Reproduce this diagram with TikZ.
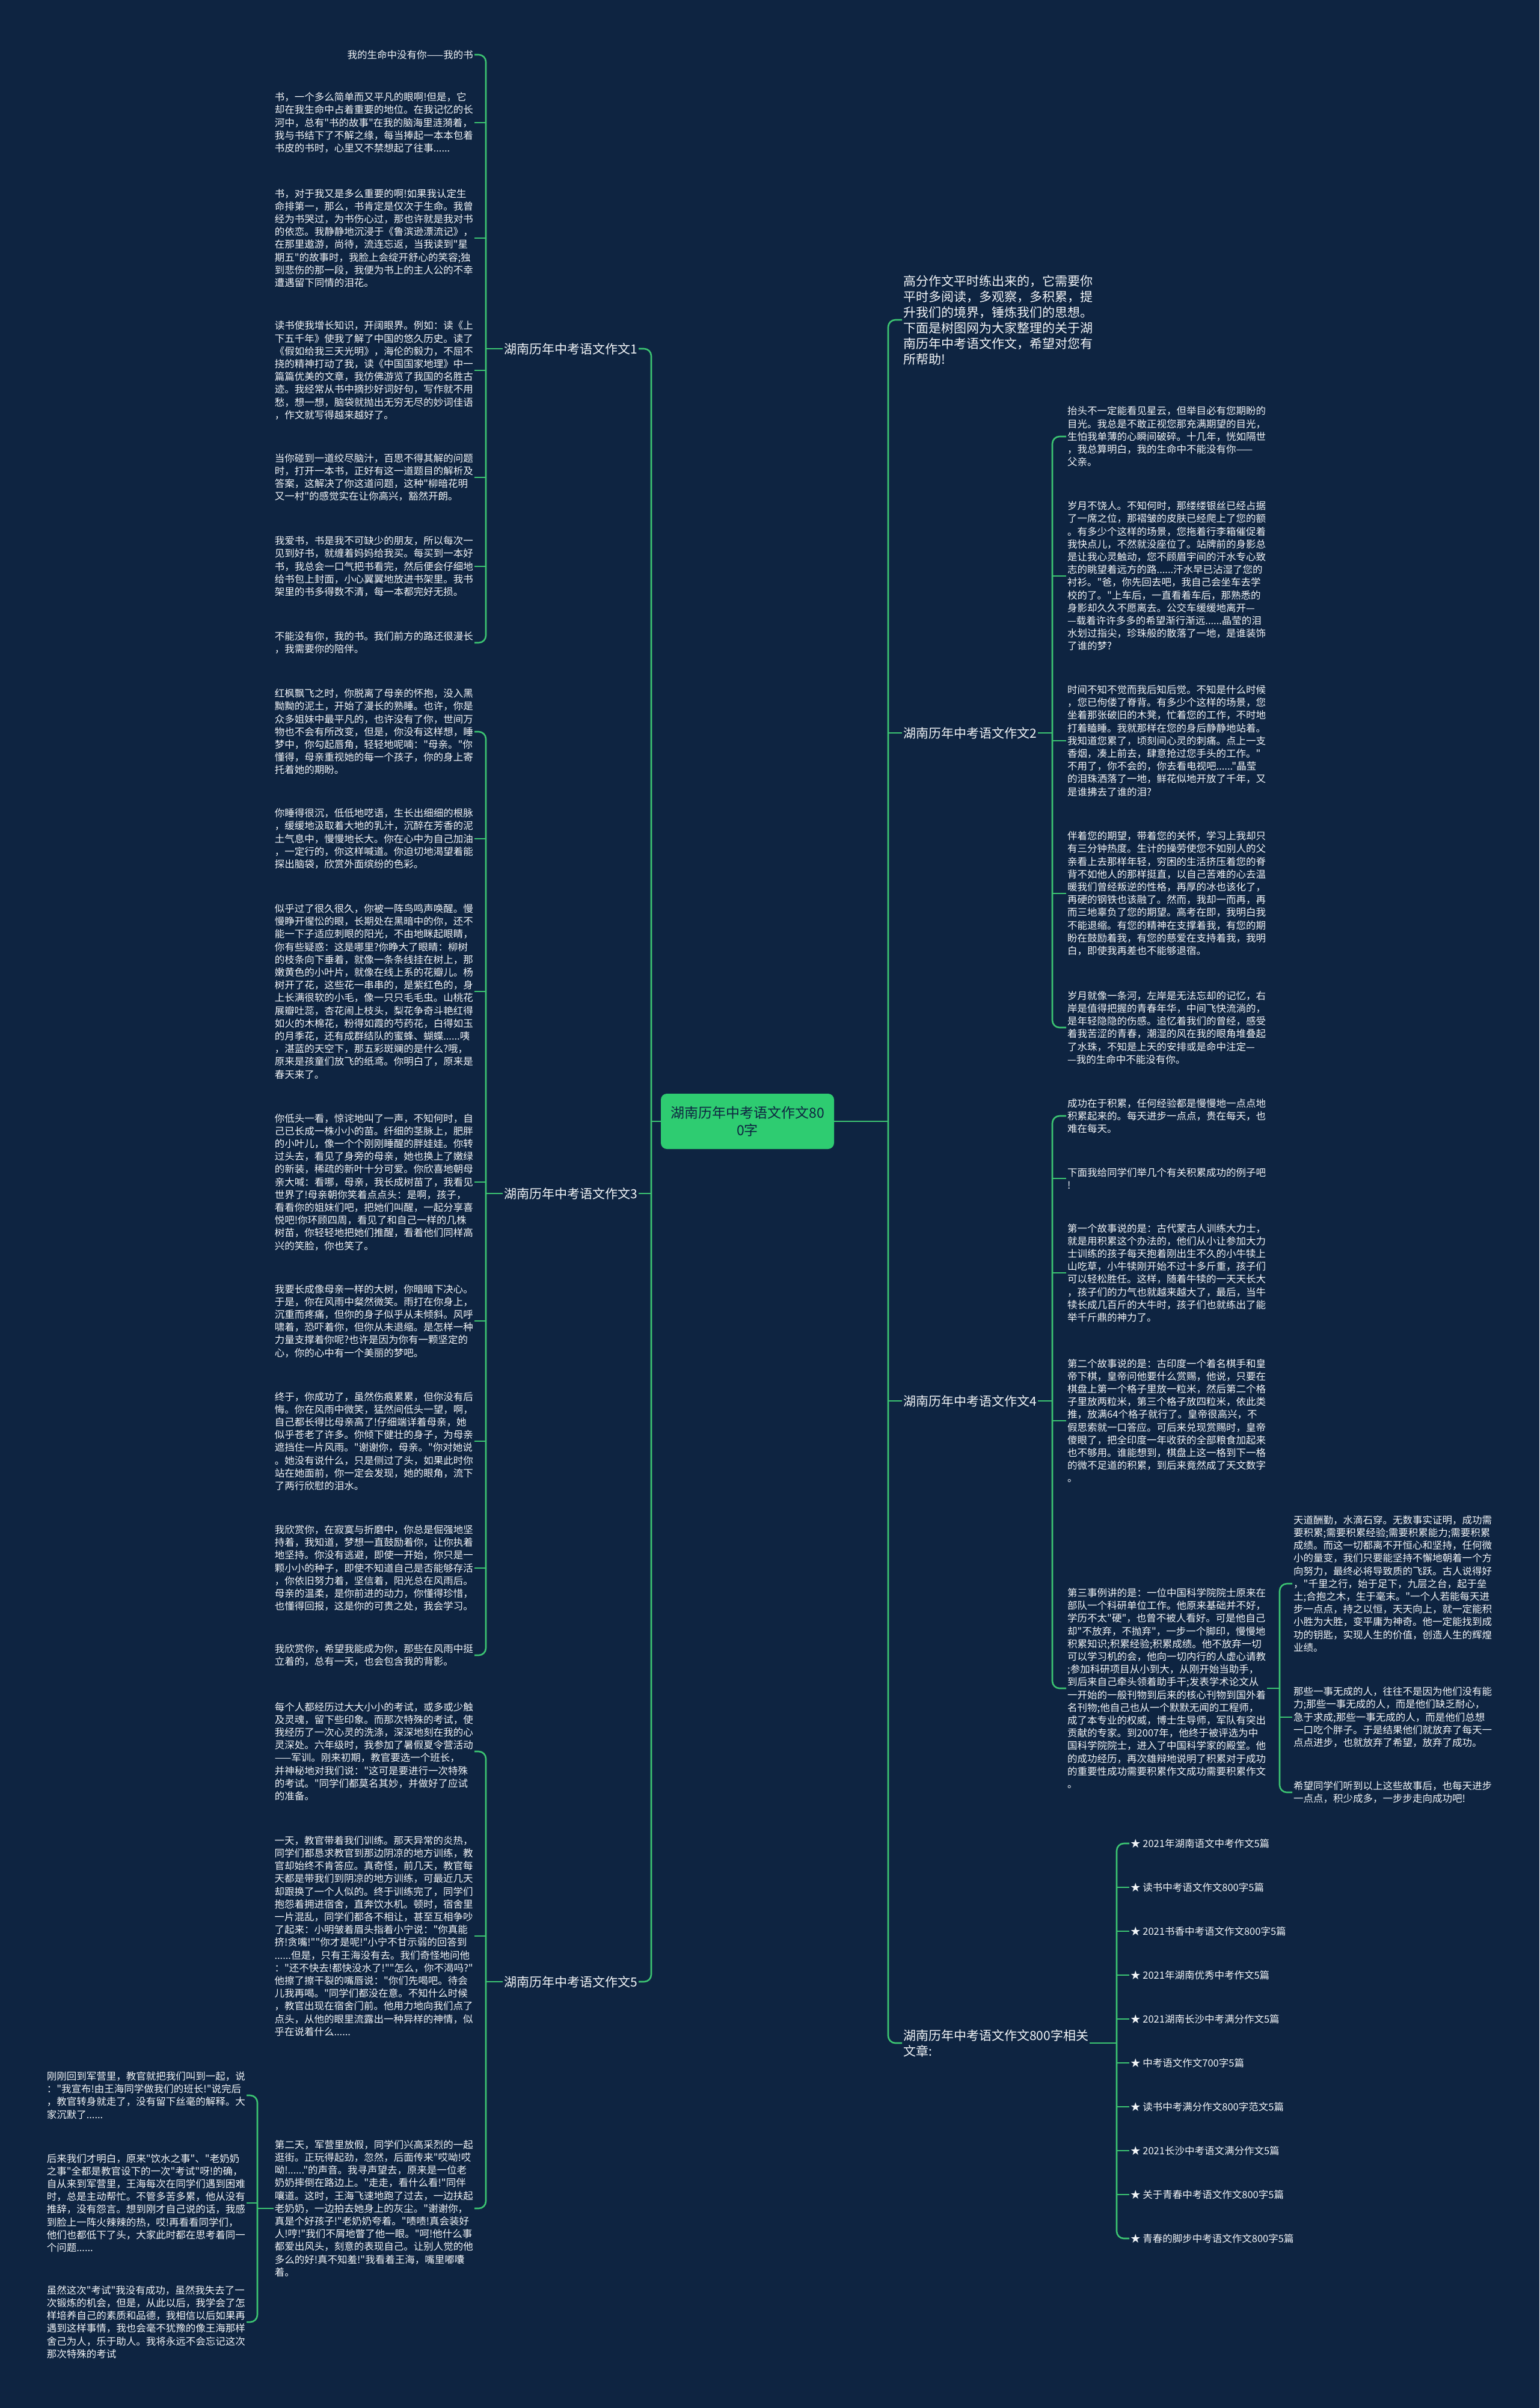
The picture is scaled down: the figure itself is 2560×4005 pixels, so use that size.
\documentclass[tikz,border=0pt]{standalone}
\usepackage{fontspec}
\setmainfont[Ligatures=TeXOff]{Noto Sans CJK SC}
\usepackage{tikz}
\definecolor{bgblue}{HTML}{0E2441}
\definecolor{mapgreen}{HTML}{3CC472}
\definecolor{rootgreen}{HTML}{2ECC71}
\definecolor{txtwhite}{HTML}{F2F5F8}

\begin{document}
\begin{tikzpicture}[x=1pt,y=-1pt,
  link/.style={draw=mapgreen,line width=2.6pt},
  brace/.style={link,rounded corners=12pt},
  leafl/.style={anchor=east,align=left,inner sep=2pt,text=txtwhite,font=\fontsize{16.5}{21.2}\selectfont},
  leafr/.style={leafl,anchor=west},
  labl/.style={anchor=east,align=left,inner sep=2pt,text=txtwhite,font=\fontsize{21}{26}\selectfont},
  labr/.style={labl,anchor=west},
  rootbox/.style={fill=rootgreen,rounded corners=10pt,minimum width=288pt,minimum height=92pt,align=center,text=bgblue,font=\fontsize{23}{29}\selectfont}]

\useasboundingbox (0,0) rectangle (2560,4005);
\fill[bgblue] (0,0) rectangle (2560,4005);

% centre
\node[rootbox] (root) at (1243,1865) {湖南历年中考语文作文80\\0字};
\coordinate (ml) at (1083,1865);
\coordinate (mr) at (1477,1865);

% left side
\node[labl] (lab1) at (1062,580) {湖南历年中考语文作文1};
\node[labl] (lab3) at (1062,1985) {湖南历年中考语文作文3};
\node[labl] (lab5) at (1062,3296) {湖南历年中考语文作文5};

% right side
\node[labr] (intro) at (1500,532) {高分作文平时练出来的，它需要你\\平时多阅读，多观察，多积累，提\\升我们的境界，锤炼我们的思想。\\下面是树图网为大家整理的关于湖\\南历年中考语文作文，希望对您有\\所帮助!};
\node[labr] (lab2) at (1500,1219) {湖南历年中考语文作文2};
\node[labr] (lab4) at (1500,2330) {湖南历年中考语文作文4};
\node[labr] (rel) at (1500,3398) {湖南历年中考语文作文800字相关\\文章:};

% branch 1
\node[leafl] (a1) at (789,91) {我的生命中没有你——我的书};
\node[leafl] (a2) at (789,204) {书，一个多么简单而又平凡的眼啊!但是，它\\却在我生命中占着重要的地位。在我记忆的长\\河中，总有"书的故事"在我的脑海里涟漪着，\\我与书结下了不解之缘，每当捧起一本本包着\\书皮的书时，心里又不禁想起了往事......};
\node[leafl] (a3) at (789,396) {书，对于我又是多么重要的啊!如果我认定生\\命排第一，那么，书肯定是仅次于生命。我曾\\经为书哭过，为书伤心过，那也许就是我对书\\的依恋。我静静地沉浸于《鲁滨逊漂流记》，\\在那里遨游，尚待，流连忘返，当我读到"星\\期五"的故事时，我脸上会绽开舒心的笑容;独\\到悲伤的那一段，我便为书上的主人公的不幸\\遭遇留下同情的泪花。};
\node[leafl] (a4) at (789,616) {读书使我增长知识，开阔眼界。例如：读《上\\下五千年》使我了解了中国的悠久历史。读了\\《假如给我三天光明》，海伦的毅力，不屈不\\挠的精神打动了我，读《中国国家地理》中一\\篇篇优美的文章，我仿佛游览了我国的名胜古\\迹。我经常从书中摘抄好词好句，写作就不用\\愁，想一想，脑袋就抛出无穷无尽的妙词佳语\\，作文就写得越来越好了。};
\node[leafl] (a5) at (789,794) {当你碰到一道绞尽脑汁，百思不得其解的问题\\时，打开一本书，正好有这一道题目的解析及\\答案，这解决了你这道问题，这种"柳暗花明\\又一村"的感觉实在让你高兴，豁然开朗。};
\node[leafl] (a6) at (789,942) {我爱书，书是我不可缺少的朋友，所以每次一\\见到好书，就缠着妈妈给我买。每买到一本好\\书，我总会一口气把书看完，然后便会仔细地\\给书包上封面，小心翼翼地放进书架里。我书\\架里的书多得数不清，每一本都完好无损。};
\node[leafl] (a7) at (789,1069) {不能没有你，我的书。我们前方的路还很漫长\\，我需要你的陪伴。};

% branch 3
\node[leafl] (b1) at (789,1217) {红枫飘飞之时，你脱离了母亲的怀抱，没入黑\\黝黝的泥土，开始了漫长的熟睡。也许，你是\\众多姐妹中最平凡的，也许没有了你，世间万\\物也不会有所改变，但是，你没有这样想，睡\\梦中，你勾起唇角，轻轻地呢喃："母亲。"你\\懂得，母亲重视她的每一个孩子，你的身上寄\\托着她的期盼。};
\node[leafl] (b2) at (789,1395) {你睡得很沉，低低地呓语，生长出细细的根脉\\，缓缓地汲取着大地的乳汁，沉醉在芳香的泥\\土气息中，慢慢地长大。你在心中为自己加油\\，一定行的，你这样喊道。你迫切地渴望着能\\探出脑袋，欣赏外面缤纷的色彩。};
\node[leafl] (b3) at (789,1649) {似乎过了很久很久，你被一阵鸟鸣声唤醒。慢\\慢睁开惺忪的眼，长期处在黑暗中的你，还不\\能一下子适应刺眼的阳光，不由地眯起眼睛，\\你有些疑惑：这是哪里?你睁大了眼睛：柳树\\的枝条向下垂着，就像一条条线挂在树上，那\\嫩黄色的小叶片，就像在线上系的花瓣儿。杨\\树开了花，这些花一串串的，是紫红色的，身\\上长满很软的小毛，像一只只毛毛虫。山桃花\\展瓣吐蕊，杏花闹上枝头，梨花争奇斗艳红得\\如火的木棉花，粉得如霞的芍药花，白得如玉\\的月季花，还有成群结队的蜜蜂、蝴蝶......咦\\，湛蓝的天空下，那五彩斑斓的是什么?哦，\\原来是孩童们放飞的纸鸢。你明白了，原来是\\春天来了。};
\node[leafl] (b4) at (789,1966) {你低头一看，惊诧地叫了一声，不知何时，自\\己已长成一株小小的苗。纤细的茎脉上，肥胖\\的小叶儿，像一个个刚刚睡醒的胖娃娃。你转\\过头去，看见了身旁的母亲，她也换上了嫩绿\\的新装，稀疏的新叶十分可爱。你欣喜地朝母\\亲大喊：看哪，母亲，我长成树苗了，我看见\\世界了!母亲朝你笑着点点头：是啊，孩子，\\看看你的姐妹们吧，把她们叫醒，一起分享喜\\悦吧!你环顾四周，看见了和自己一样的几株\\树苗，你轻轻地把她们推醒，看着他们同样高\\兴的笑脸，你也笑了。};
\node[leafl] (b5) at (789,2197) {我要长成像母亲一样的大树，你暗暗下决心。\\于是，你在风雨中粲然微笑。雨打在你身上，\\沉重而疼痛，但你的身子似乎从未倾斜。风呼\\啸着，恐吓着你，但你从未退缩。是怎样一种\\力量支撑着你呢?也许是因为你有一颗坚定的\\心，你的心中有一个美丽的梦吧。};
\node[leafl] (b6) at (789,2397) {终于，你成功了，虽然伤痕累累，但你没有后\\悔。你在风雨中微笑，猛然间低头一望，啊，\\自己都长得比母亲高了!仔细端详着母亲，她\\似乎苍老了许多。你倾下健壮的身子，为母亲\\遮挡住一片风雨。"谢谢你，母亲。"你对她说\\。她没有说什么，只是侧过了头，如果此时你\\站在她面前，你一定会发现，她的眼角，流下\\了两行欣慰的泪水。};
\node[leafl] (b7) at (789,2608) {我欣赏你，在寂寞与折磨中，你总是倔强地坚\\持着，我知道，梦想一直鼓励着你，让你执着\\地坚持。你没有逃避，即使一开始，你只是一\\颗小小的种子，即使不知道自己是否能够存活\\，你依旧努力着，坚信着，阳光总在风雨后。\\母亲的温柔，是你前进的动力，你懂得珍惜，\\也懂得回报，这是你的可贵之处，我会学习。};
\node[leafl] (b8) at (789,2753) {我欣赏你，希望我能成为你，那些在风雨中挺\\立着的，总有一天，也会包含我的背影。};

% branch 5
\node[leafl] (c1) at (789,2913) {每个人都经历过大大小小的考试，或多或少触\\及灵魂，留下些印象。而那次特殊的考试，使\\我经历了一次心灵的洗涤，深深地刻在我的心\\灵深处。六年级时，我参加了暑假夏令营活动\\——军训。刚来初期，教官要选一个班长，\\并神秘地对我们说："这可是要进行一次特殊\\的考试。"同学们都莫名其妙，并做好了应试\\的准备。};
\node[leafl] (c2) at (789,3220) {一天，教官带着我们训练。那天异常的炎热，\\同学们都恳求教官到那边阴凉的地方训练，教\\官却始终不肯答应。真奇怪，前几天，教官每\\天都是带我们到阴凉的地方训练，可最近几天\\却跟换了一个人似的。终于训练完了，同学们\\抱怨着拥进宿舍，直奔饮水机。顿时，宿舍里\\一片混乱，同学们都各不相让，甚至互相争吵\\了起来：小明皱着眉头指着小宁说："你真能\\挤!贪嘴!""你才是呢!"小宁不甘示弱的回答到\\......但是，只有王海没有去。我们奇怪地问他\\："还不快去!都快没水了!""怎么，你不渴吗?"\\他擦了擦干裂的嘴唇说："你们先喝吧。待会\\儿我再喝。"同学们都没在意。不知什么时候\\，教官出现在宿舍门前。他用力地向我们点了\\点头，从他的眼里流露出一种异样的神情，似\\乎在说着什么......};
\node[leafl] (c3) at (789,3673) {第二天，军营里放假，同学们兴高采烈的一起\\逛街。正玩得起劲，忽然，后面传来"哎呦!哎\\呦!......"的声音。我寻声望去，原来是一位老\\奶奶摔倒在路边上。"走走，看什么看!"同伴\\嚷道。这时，王海飞速地跑了过去，一边扶起\\老奶奶，一边拍去她身上的灰尘。"谢谢你，\\真是个好孩子!"老奶奶夸着。"啧啧!真会装好\\人!哼!"我们不屑地瞥了他一眼。"呵!他什么事\\都爱出风头，刻意的表现自己。让别人觉的他\\多么的好!真不知羞!"我看着王海，嘴里嘟囔\\着。};
\node[leafl] (d1) at (410,3485) {刚刚回到军营里，教官就把我们叫到一起，说\\："我宣布!由王海同学做我们的班长!"说完后\\，教官转身就走了，没有留下丝毫的解释。大\\家沉默了......};
\node[leafl] (d2) at (410,3664) {后来我们才明白，原来"饮水之事"、"老奶奶\\之事"全都是教官设下的一次"考试"呀!的确，\\自从来到军营里，王海每次在同学们遇到困难\\时，总是主动帮忙。不管多苦多累，他从没有\\推辞，没有怨言。想到刚才自己说的话，我感\\到脸上一阵火辣辣的热，哎!再看看同学们，\\他们也都低下了头，大家此时都在思考着同一\\个问题......};
\node[leafl] (d3) at (410,3862) {虽然这次"考试"我没有成功，虽然我失去了一\\次锻炼的机会，但是，从此以后，我学会了怎\\样培养自己的素质和品德，我相信以后如果再\\遇到这样事情，我也会毫不犹豫的像王海那样\\舍己为人，乐于助人。我将永远不会忘记这次\\那次特殊的考试};

% branch 2
\node[leafr] (e1) at (1773,726) {抬头不一定能看见星云，但举目必有您期盼的\\目光。我总是不敢正视您那充满期望的目光，\\生怕我单薄的心瞬间破碎。十几年，恍如隔世\\，我总算明白，我的生命中不能没有你——\\父亲。};
\node[leafr] (e2) at (1773,958) {岁月不饶人。不知何时，那缕缕银丝已经占据\\了一席之位，那褶皱的皮肤已经爬上了您的额\\。有多少个这样的场景，您拖着行李箱催促着\\我快点儿，不然就没座位了。站牌前的身影总\\是让我心灵触动，您不顾眉宇间的汗水专心致\\志的眺望着远方的路......汗水早已沾湿了您的\\衬衫。"爸，你先回去吧，我自己会坐车去学\\校的了。"上车后，一直看着车后，那熟悉的\\身影却久久不愿离去。公交车缓缓地离开—\\—载着许许多多的希望渐行渐远......晶莹的泪\\水划过指尖，珍珠般的散落了一地，是谁装饰\\了谁的梦?};
\node[leafr] (e3) at (1773,1232) {时间不知不觉而我后知后觉。不知是什么时候\\，您已佝偻了脊背。有多少个这样的场景，您\\坐着那张破旧的木凳，忙着您的工作，不时地\\打着瞌睡。我就那样在您的身后静静地站着。\\我知道您累了，顷刻间心灵的刺痛。点上一支\\香烟，凑上前去，肆意抢过您手头的工作。"\\不用了，你不会的，你去看电视吧......"晶莹\\的泪珠洒落了一地，鲜花似地开放了千年，又\\是谁拂去了谁的泪?};
\node[leafr] (e4) at (1773,1486) {伴着您的期望，带着您的关怀，学习上我却只\\有三分钟热度。生计的操劳使您不如别人的父\\亲看上去那样年轻，穷困的生活挤压着您的脊\\背不如他人的那样挺直，以自己苦难的心去温\\暖我们曾经叛逆的性格，再厚的冰也该化了，\\再硬的钢铁也该融了。然而，我却一而再，再\\而三地辜负了您的期望。高考在即，我明白我\\不能退缩。有您的精神在支撑着我，有您的期\\盼在鼓励着我，有您的慈爱在支持着我，我明\\白，即使我再差也不能够退宿。};
\node[leafr] (e5) at (1773,1709) {岁月就像一条河，左岸是无法忘却的记忆，右\\岸是值得把握的青春年华，中间飞快流淌的，\\是年轻隐隐的伤感。追忆着我们的曾经，感受\\着我苦涩的青春，潮湿的风在我的眼角堆叠起\\了水珠，不知是上天的安排或是命中注定—\\—我的生命中不能没有你。};

% branch 4
\node[leafr] (f1) at (1773,1856) {成功在于积累，任何经验都是慢慢地一点点地\\积累起来的。每天进步一点点，贵在每天，也\\难在每天。};
\node[leafr] (f2) at (1773,1960) {下面我给同学们举几个有关积累成功的例子吧\\!};
\node[leafr] (f3) at (1773,2117) {第一个故事说的是：古代蒙古人训练大力士，\\就是用积累这个办法的，他们从小让参加大力\\士训练的孩子每天抱着刚出生不久的小牛犊上\\山吃草，小牛犊刚开始不过十多斤重，孩子们\\可以轻松胜任。这样，随着牛犊的一天天长大\\，孩子们的力气也就越来越大了，最后，当牛\\犊长成几百斤的大牛时，孩子们也就练出了能\\举千斤鼎的神力了。};
\node[leafr] (f4) at (1773,2363) {第二个故事说的是：古印度一个着名棋手和皇\\帝下棋，皇帝问他要什么赏赐，他说，只要在\\棋盘上第一个格子里放一粒米，然后第二个格\\子里放两粒米，第三个格子放四粒米，依此类\\推，放满64个格子就行了。皇帝很高兴，不\\假思索就一口答应。可后来兑现赏赐时，皇帝\\傻眼了，把全印度一年收获的全部粮食加起来\\也不够用。谁能想到，棋盘上这一格到下一格\\的微不足道的积累，到后来竟然成了天文数字\\。};
\node[leafr] (f5) at (1773,2808) {第三事例讲的是：一位中国科学院院士原来在\\部队一个科研单位工作。他原来基础并不好，\\学历不太"硬"，也曾不被人看好。可是他自己\\却"不放弃，不抛弃"，一步一个脚印，慢慢地\\积累知识;积累经验;积累成绩。他不放弃一切\\可以学习机的会，他向一切内行的人虚心请教\\;参加科研项目从小到大，从刚开始当助手，\\到后来自己牵头领着助手干;发表学术论文从\\一开始的一般刊物到后来的核心刊物到国外着\\名刊物;他自己也从一个默默无闻的工程师，\\成了本专业的权威，博士生导师，军队有突出\\贡献的专家。到2007年，他终于被评选为中\\国科学院院士，进入了中国科学家的殿堂。他\\的成功经历，再次雄辩地说明了积累对于成功\\的重要性成功需要积累作文成功需要积累作文\\。};
\node[leafr] (g1) at (2149,2634) {天道酬勤，水滴石穿。无数事实证明，成功需\\要积累;需要积累经验;需要积累能力;需要积累\\成绩。而这一切都离不开恒心和坚持，任何微\\小的量变，我们只要能坚持不懈地朝着一个方\\向努力，最终必将导致质的飞跃。古人说得好\\，"千里之行，始于足下，九层之台，起于垒\\土;合抱之木，生于毫末。"一个人若能每天进\\步一点点，持之以恒，天天向上，就一定能积\\小胜为大胜，变平庸为神奇。他一定能找到成\\功的钥匙，实现人生的价值，创造人生的辉煌\\业绩。};
\node[leafr] (g2) at (2149,2856) {那些一事无成的人，往往不是因为他们没有能\\力;那些一事无成的人，而是他们缺乏耐心，\\急于求成;那些一事无成的人，而是他们总想\\一口吃个胖子。于是结果他们就放弃了每天一\\点点进步，也就放弃了希望，放弃了成功。};
\node[leafr] (g3) at (2149,2981) {希望同学们听到以上这些故事后，也每天进步\\一点点，积少成多，一步步走向成功吧!};

% related articles
\foreach \t [count=\i] in {2021年湖南语文中考作文5篇,读书中考语文作文800字5篇,2021书香中考语文作文800字5篇,2021年湖南优秀中考作文5篇,2021湖南长沙中考满分作文5篇,中考语文作文700字5篇,读书中考满分作文800字范文5篇,2021长沙中考语文满分作文5篇,关于青春中考语文作文800字5篇,青春的脚步中考语文作文800字5篇}
  \node[leafr] (r\i) at (1878,2993+73*\i) {★ \t};

% connectors
\coordinate (br1) at (808,580);
\coordinate (br3) at (808,1985);
\coordinate (br5) at (808,3296);
\coordinate (br8) at (428,3673);
\coordinate (br2) at (1750,1219);
\coordinate (br4) at (1750,2330);
\coordinate (br6) at (2128,2808);
\coordinate (br7) at (1857,3398);

\draw[link] (root.west) -- (ml);
\draw[link] (root.east) -- (mr);
\draw[brace] (lab1.east) -| (ml) |- (lab5.east);
\draw[link] (lab3.east) -- (lab3.east -| ml);
\draw[brace] (intro.west) -| (mr) |- (rel.west);
\foreach \n in {lab2,lab4}
  \draw[link] (\n.west) -- (\n.west -| mr);

\draw[link] (lab1.west) -- (br1);
\draw[brace] (a1.east) -| (br1) |- (a7.east);
\foreach \n in {a2,a3,a4,a5,a6}
  \draw[link] (\n.east) -- (\n.east -| br1);

\draw[link] (lab3.west) -- (br3);
\draw[brace] (b1.east) -| (br3) |- (b8.east);
\foreach \n in {b2,b3,b4,b5,b6,b7}
  \draw[link] (\n.east) -- (\n.east -| br3);

\draw[link] (lab5.west) -- (br5);
\draw[brace] (c1.east) -| (br5) |- (c3.east);
\draw[link] (c2.east) -- (c2.east -| br5);

\draw[link] (c3.west) -- (br8);
\draw[brace] (d1.east) -| (br8) |- (d3.east);
\draw[link] (d2.east) -- (d2.east -| br8);

\draw[link] (lab2.east) -- (br2);
\draw[brace] (e1.west) -| (br2) |- (e5.west);
\foreach \n in {e2,e3,e4}
  \draw[link] (\n.west) -- (\n.west -| br2);

\draw[link] (lab4.east) -- (br4);
\draw[brace] (f1.west) -| (br4) |- (f5.west);
\foreach \n in {f2,f3,f4}
  \draw[link] (\n.west) -- (\n.west -| br4);

\draw[link] (f5.east) -- (br6);
\draw[brace] (g1.west) -| (br6) |- (g3.west);
\draw[link] (g2.west) -- (g2.west -| br6);

\draw[link] (rel.east) -- (br7);
\draw[brace] (r1.west) -| (br7) |- (r10.west);
\foreach \i in {2,...,9}
  \draw[link] (r\i.west) -- (r\i.west -| br7);

\end{tikzpicture}
\end{document}
